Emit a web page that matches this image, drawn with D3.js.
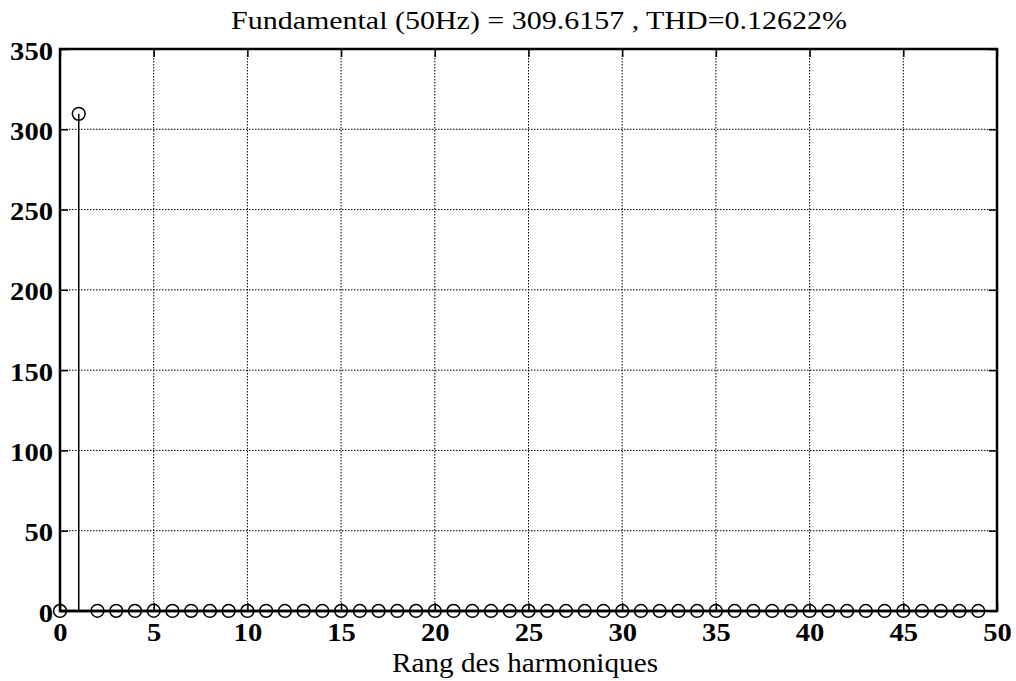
<!DOCTYPE html>
<html>
<head>
<meta charset="utf-8">
<script src="https://cdn.jsdelivr.net/npm/d3@7"></script>
<style>
  html, body { margin: 0; padding: 0; background: #fff; }
  svg { display: block; }
</style>
</head>
<body>
<svg id="chart" width="1016" height="681"></svg>
<script>
// Harmonic spectrum: rank 0 (DC) to 49, amplitude of each component
const harmonicRanks = d3.range(0, 50);
const harmonicAmplitudes = [
  0.05, 309.6157, 0.12, 0.08, 0.06, 0.15, 0.05, 0.11, 0.04, 0.07,
  0.05, 0.09, 0.04, 0.06, 0.03, 0.08, 0.04, 0.05, 0.03, 0.06,
  0.03, 0.05, 0.03, 0.04, 0.02, 0.05, 0.03, 0.04, 0.02, 0.04,
  0.02, 0.04, 0.02, 0.03, 0.02, 0.03, 0.02, 0.03, 0.02, 0.03,
  0.02, 0.03, 0.02, 0.02, 0.02, 0.03, 0.02, 0.02, 0.02, 0.02
];
const xTicks = [0, 5, 10, 15, 20, 25, 30, 35, 40, 45, 50];
const yTicks = [0, 50, 100, 150, 200, 250, 300, 350];
const titleText = "Fundamental (50Hz) = 309.6157 , THD=0.12622%";
const xLabelText = "Rang des harmoniques";

const svg = d3.select("#chart");
const plotLeft = 60, plotRight = 997, plotTop = 49, plotBottom = 611;

const x = d3.scaleLinear().domain([0, 50]).range([plotLeft, plotRight]);
const y = d3.scaleLinear().domain([0, 350]).range([plotBottom, plotTop]);

const serif = "'Liberation Serif', 'Times New Roman', serif";
const digitWidth = 14.3;

// Grid (dotted)
const grid = svg.append("g").attr("stroke", "#000").attr("stroke-width", 1)
  .attr("stroke-dasharray", "1.5,1.5");
grid.selectAll("line.vx").data(xTicks.filter(d => d > 0 && d < 50)).join("line")
  .attr("class", "vx")
  .attr("x1", d => x(d)).attr("x2", d => x(d)).attr("y1", plotTop).attr("y2", plotBottom);
grid.selectAll("line.hy").data(yTicks.filter(d => d > 0 && d < 350)).join("line")
  .attr("class", "hy")
  .attr("x1", plotLeft).attr("x2", plotRight).attr("y1", d => y(d)).attr("y2", d => y(d));

// Axes (inward ticks, mirrored on top and right)
const tickLen = 8;
const xAxis = d3.axisBottom(x).tickValues(xTicks).tickSize(-tickLen);
const yAxis = d3.axisLeft(y).tickValues(yTicks).tickSize(-tickLen);

const gx = svg.append("g").attr("transform", `translate(0,${plotBottom})`).call(xAxis);
const gy = svg.append("g").attr("transform", `translate(${plotLeft},0)`).call(yAxis);
svg.append("g").attr("transform", `translate(0,${plotTop})`)
  .call(d3.axisTop(x).tickValues(xTicks).tickSize(-tickLen).tickFormat(""));
svg.append("g").attr("transform", `translate(${plotRight},0)`)
  .call(d3.axisRight(y).tickValues(yTicks).tickSize(-tickLen).tickFormat(""));

svg.selectAll(".domain").remove();
svg.selectAll(".tick line").attr("stroke", "#000").attr("stroke-width", 1.5);

gx.selectAll("text")
  .attr("font-family", serif).attr("font-weight", "bold").attr("font-size", 25)
  .attr("fill", "#000").attr("dy", null).attr("y", 30)
  .attr("textLength", d => String(d).length * digitWidth)
  .attr("lengthAdjust", "spacingAndGlyphs");
gy.selectAll("text")
  .attr("font-family", serif).attr("font-weight", "bold").attr("font-size", 25)
  .attr("fill", "#000").attr("dy", null).attr("y", 10).attr("x", -7)
  .attr("textLength", d => String(d).length * digitWidth)
  .attr("lengthAdjust", "spacingAndGlyphs");

// Stems
const stems = svg.append("g").attr("stroke", "#000").attr("stroke-width", 1.5);
stems.selectAll("line").data(harmonicRanks).join("line")
  .attr("x1", d => x(d)).attr("x2", d => x(d))
  .attr("y1", y(0)).attr("y2", d => y(harmonicAmplitudes[d]));

// Box
svg.append("rect").attr("x", plotLeft).attr("y", plotTop)
  .attr("width", plotRight - plotLeft).attr("height", plotBottom - plotTop)
  .attr("fill", "none").attr("stroke", "#000").attr("stroke-width", 2.5);

// Baseline
svg.append("line").attr("x1", x(0)).attr("x2", x(49)).attr("y1", y(0)).attr("y2", y(0))
  .attr("stroke", "#000").attr("stroke-width", 2.5);

// Circle markers
svg.append("g").selectAll("circle").data(harmonicRanks).join("circle")
  .attr("cx", d => x(d)).attr("cy", d => y(harmonicAmplitudes[d]))
  .attr("r", 6.4).attr("fill", "none").attr("stroke", "#000").attr("stroke-width", 1.5);

// Title and axis label
svg.append("text").attr("x", 231).attr("y", 28.5)
  .attr("font-family", serif).attr("font-size", 25).attr("fill", "#000")
  .attr("textLength", 616).attr("lengthAdjust", "spacingAndGlyphs")
  .text(titleText);
svg.append("text").attr("x", 392).attr("y", 671.5)
  .attr("font-family", serif).attr("font-size", 27).attr("fill", "#000")
  .attr("textLength", 266).attr("lengthAdjust", "spacingAndGlyphs")
  .text(xLabelText);
</script>
</body>
</html>
